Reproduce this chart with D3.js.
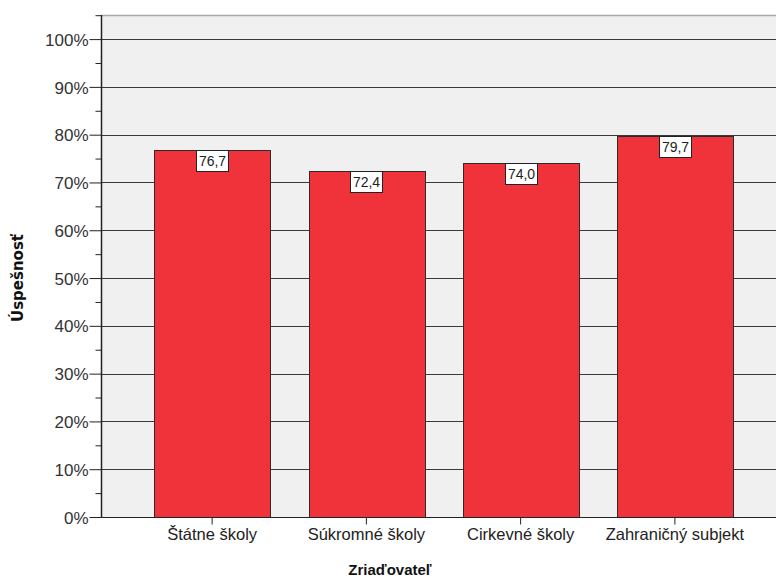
<!DOCTYPE html>
<html>
<head>
<meta charset="utf-8">
<script src="https://cdn.jsdelivr.net/npm/d3@7"></script>
<style>
  body { margin: 0; background: #fff; }
  text { font-family: Arial, "Liberation Sans", sans-serif; }
</style>
</head>
<body>
<div id="chart"></div>
<script>
// chart data
const categories = ["Štátne školy", "Súkromné školy", "Cirkevné školy", "Zahraničný subjekt"]
const values = [76.7, 72.4, 74.0, 79.7]
const yTicks = [0, 10, 20, 30, 40, 50, 60, 70, 80, 90, 100]
const yMinorTicks = [5, 15, 25, 35, 45, 55, 65, 75, 85, 95, 105]

const width = 776,
  height = 579

const svg = d3.select("#chart").append("svg").attr("width", width).attr("height", height)

const plotLeft = 101,
  plotRight = 776,
  plotTop = 15,
  plotBottom = 517

const y = d3.scaleLinear().domain([0, 105]).range([plotBottom, plotTop + 0.2])
const x = d3.scaleBand().domain(categories).range([135, 752]).paddingInner(0.25).paddingOuter(0.125)

// plot background
svg
  .append("rect")
  .attr("x", plotLeft)
  .attr("y", plotTop)
  .attr("width", plotRight - plotLeft)
  .attr("height", plotBottom - plotTop)
  .attr("fill", "#f0f0f0")

// top border
svg
  .append("line")
  .attr("x1", plotLeft)
  .attr("x2", plotRight)
  .attr("y1", plotTop + 0.5)
  .attr("y2", plotTop + 0.5)
  .attr("stroke", "#a8a8a8")
  .attr("stroke-width", 1.5)

// gridlines
svg
  .selectAll(".grid")
  .data(yTicks.slice(1))
  .enter()
  .append("line")
  .attr("x1", plotLeft)
  .attr("x2", plotRight)
  .attr("y1", (d) => Math.round(y(d)) + 0.5)
  .attr("y2", (d) => Math.round(y(d)) + 0.5)
  .attr("stroke", "#3a3a3a")
  .attr("stroke-width", 1)

// bars
svg
  .selectAll(".bar")
  .data(values)
  .enter()
  .append("rect")
  .attr("x", (d, i) => Math.round(x(categories[i])) + 0.5)
  .attr("y", (d) => Math.round(y(d)) + 0.5)
  .attr("width", Math.round(x.bandwidth()))
  .attr("height", (d) => plotBottom - Math.round(y(d)))
  .attr("fill", "#f0323a")
  .attr("stroke", "#2b2b2b")
  .attr("stroke-width", 1)

// value labels
const lab = svg
  .selectAll(".lab")
  .data(values)
  .enter()
  .append("g")
  .attr("transform", (d, i) => `translate(${Math.round(x(categories[i]) + x.bandwidth() / 2)},${Math.round(y(d))})`)

lab
  .append("rect")
  .attr("x", -15.5)
  .attr("y", 0.5)
  .attr("width", 32)
  .attr("height", 21)
  .attr("fill", "#fff")
  .attr("stroke", "#222")
  .attr("stroke-width", 1)

lab
  .append("text")
  .attr("x", 0.5)
  .attr("y", 16)
  .attr("text-anchor", "middle")
  .style("font-size", "14px")
  .style("fill", "#222")
  .text((d) => d3.format(".1f")(d).replace(".", ","))

// y axis
const yAxis = svg
  .append("g")
  .attr("transform", `translate(${plotLeft + 0.5},0)`)
  .call(
    d3
      .axisLeft(y)
      .tickValues(yTicks)
      .tickSize(12)
      .tickPadding(1)
      .tickFormat((d) => d + "%"),
  )
yAxis.select(".domain").attr("d", `M0,${plotTop}V${plotBottom}`).attr("stroke", "#222").attr("stroke-width", 1.5)
yAxis.selectAll(".tick line").attr("stroke", "#222")
yAxis.selectAll("text").style("font-size", "17px").style("fill", "#333").attr("dy", "0.36em")

svg
  .append("g")
  .attr("transform", `translate(${plotLeft + 0.5},0)`)
  .call(d3.axisLeft(y).tickValues(yMinorTicks).tickSize(6).tickFormat(""))
  .call((g) => g.select(".domain").remove())
  .selectAll("line")
  .attr("stroke", "#222")

// x axis
const xAxis = svg
  .append("g")
  .attr("transform", `translate(0,${plotBottom + 0.5})`)
  .call(d3.axisBottom(x).tickSize(7).tickPadding(4))
xAxis.select(".domain").attr("d", `M${plotLeft},0H${plotRight}`).attr("stroke", "#222")
xAxis.selectAll(".tick line").attr("stroke", "#222")
xAxis.selectAll("text").style("font-size", "16.5px").style("fill", "#222")

// axis titles
svg
  .append("text")
  .attr("x", 390)
  .attr("y", 575)
  .attr("text-anchor", "middle")
  .style("font-size", "15px")
  .style("font-weight", "bold")
  .style("fill", "#111")
  .text("Zriaďovateľ")

svg
  .append("text")
  .attr("transform", "translate(23,278) rotate(-90)")
  .attr("text-anchor", "middle")
  .style("font-family", "'DejaVu Sans', Verdana, sans-serif")
  .style("font-size", "15px")
  .style("font-weight", "bold")
  .style("fill", "#111")
  .text("Úspešnosť")
</script>
</body>
</html>
